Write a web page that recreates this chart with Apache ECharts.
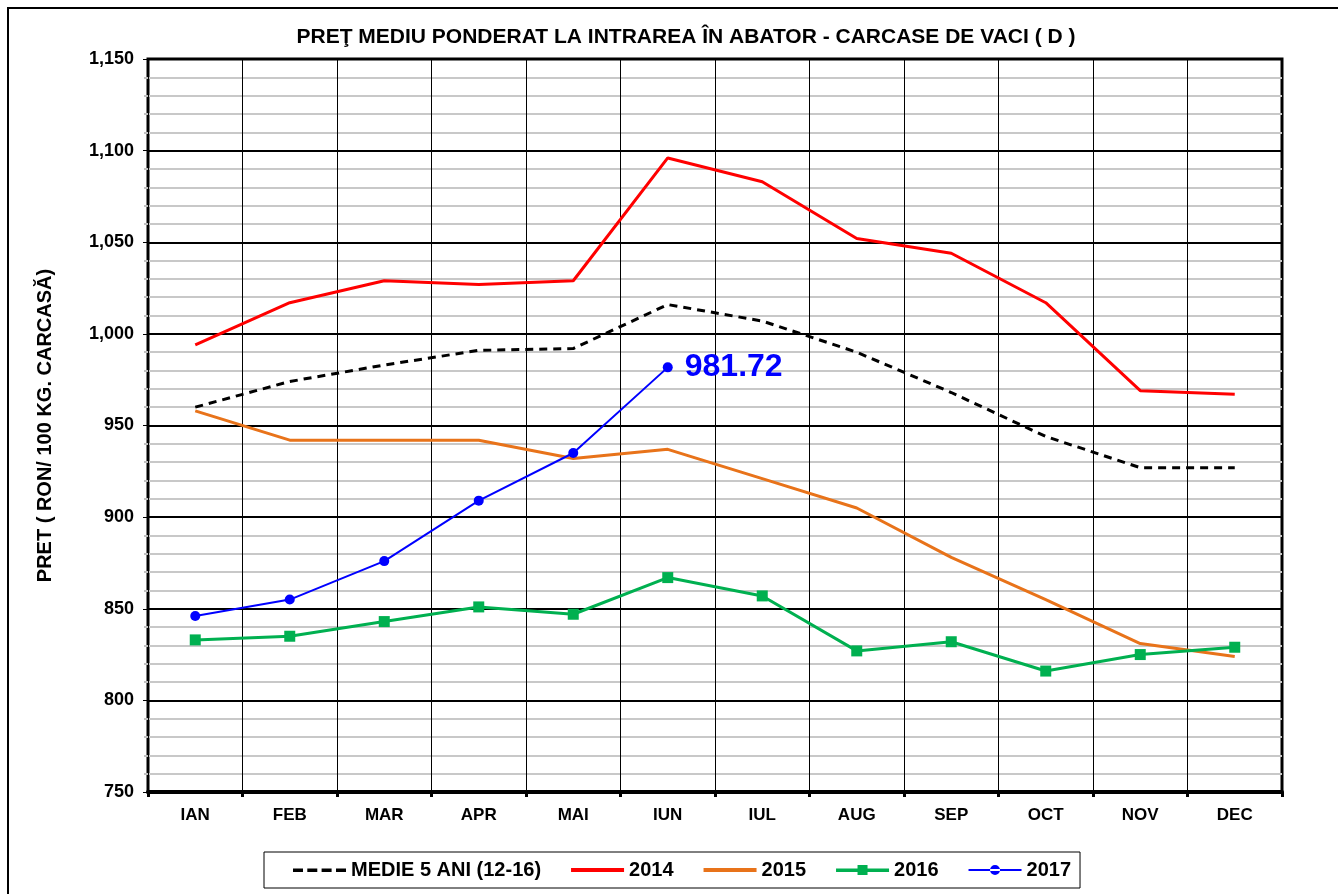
<!DOCTYPE html>
<html>
<head>
<meta charset="utf-8">
<script src="https://cdn.jsdelivr.net/npm/echarts@6/dist/echarts.min.js"></script>
<style>
  html, body { margin: 0; padding: 0; background: #fff; }
  #chart { width: 1338px; height: 894px; }
</style>
</head>
<body>
<div id="chart"></div>
<script>
var luni = ["IAN", "FEB", "MAR", "APR", "MAI", "IUN", "IUL", "AUG", "SEP", "OCT", "NOV", "DEC"];

var medie = [960, 974, 983, 991, 992, 1016, 1007, 990, 968, 944, 927, 927];
var an2014 = [994, 1017, 1029, 1027, 1029, 1096, 1083, 1052, 1044, 1017, 969, 967];
var an2015 = [958, 942, 942, 942, 932, 937, 921, 905, 878, 855, 831, 824];
var an2016 = [833, 835, 843, 851, 847, 867, 857, 827, 832, 816, 825, 829];
var an2017 = [846, 855, 876, 909, 935, 981.72];

var font = "'Liberation Sans', Arial, sans-serif";
var myChart = echarts.init(document.getElementById("chart"));

// colturi minuscule ca iconul sa pastreze cutia 53x14
var colturi = "M0,0h0.1v0.1h-0.1z M52.9,13.9h0.1v0.1h-0.1z ";
var iconLinie = "path://" + colturi + "M0,5h53v4h-53z";
var iconPunctat = "path://" + colturi + "M0,5.5h10v3.5h-10z M14.3,5.5h10v3.5h-10z M28.6,5.5h10v3.5h-10z M43,5.5h10v3.5h-10z";
var iconPatrat = "path://" + colturi + "M0,5.5h53v3.5h-53z M21.5,2h10v10h-10z";
var iconCerc = "path://" + colturi + "M0,6h53v2h-53z M21.5,7a5,5 0 1,0 10,0a5,5 0 1,0 -10,0z";

// ultimul punct din 2017 primeste eticheta
var date2017 = an2017.map(function (v, i) {
  if (i === an2017.length - 1) {
    return {
      value: v,
      label: {
        show: true,
        position: "right",
        distance: 12,
        formatter: function (p) { return p.value.toFixed(2); },
        color: "#0000ff",
        fontSize: 32,
        fontWeight: "bold",
        fontFamily: font
      }
    };
  }
  return v;
});

var option = {
  backgroundColor: "#fff",
  animation: false,
  title: {
    text: "PREŢ MEDIU PONDERAT LA INTRAREA ÎN ABATOR - CARCASE DE VACI ( D )",
    left: 681,
    top: 22,
    textAlign: "center",
    textStyle: { fontFamily: font, fontSize: 21, fontWeight: "bold", color: "#000" }
  },
  graphic: [
    {
      type: "rect",
      shape: { x: 8, y: 8, width: 1340, height: 900 },
      style: { fill: "none", stroke: "#000", lineWidth: 2 },
      silent: true
    }
  ],
  legend: {
    left: 264,
    top: 852,
    padding: [8, 9, 8, 29],
    itemGap: 30,
    itemWidth: 53,
    itemHeight: 14,
    borderColor: "#000",
    borderWidth: 1,
    itemStyle: { borderWidth: 0 },
    textStyle: { fontFamily: font, fontSize: 20, fontWeight: "bold", color: "#000" },
    data: [
      { name: "MEDIE 5 ANI (12-16)", icon: iconPunctat },
      { name: "2014", icon: iconLinie },
      { name: "2015", icon: iconLinie },
      { name: "2016", icon: iconPatrat },
      { name: "2017", icon: iconCerc }
    ]
  },
  grid: {
    left: 148,
    right: 56,
    top: 59,
    bottom: 102,
    show: true,
    borderColor: "#000",
    borderWidth: 3,
    containLabel: false
  },
  xAxis: {
    type: "category",
    data: luni,
    boundaryGap: true,
    axisLine: { lineStyle: { color: "#000", width: 4 } },
    axisTick: { show: true, length: 5, lineStyle: { color: "#000", width: 3 } },
    axisLabel: { fontFamily: font, fontSize: 17, fontWeight: "bold", color: "#000", margin: 15 },
    splitLine: { show: true, lineStyle: { color: "#000", width: 1 } }
  },
  yAxis: {
    type: "value",
    min: 750,
    max: 1150,
    interval: 50,
    name: "PRET ( RON/ 100 KG. CARCASĂ)",
    nameLocation: "middle",
    nameGap: 93,
    nameTextStyle: { fontFamily: font, fontSize: 20, fontWeight: "bold", color: "#000" },
    axisLine: { show: true, lineStyle: { color: "#000", width: 2 } },
    axisTick: { show: true, length: 5, lineStyle: { color: "#000", width: 1 } },
    axisLabel: {
      fontFamily: font, fontSize: 18, fontWeight: "bold", color: "#000", margin: 14,
      formatter: function (v) { return v.toLocaleString("en-US"); }
    },
    splitLine: { show: true, lineStyle: { color: "#000", width: 2 } },
    minorTick: { show: true, splitNumber: 5, length: 4, lineStyle: { color: "#c0c0c0", width: 2 } },
    minorSplitLine: { show: true, lineStyle: { color: "#c8c8c8", width: 2 } }
  },
  series: [
    {
      name: "MEDIE 5 ANI (12-16)",
      type: "line",
      data: medie,
      symbol: "none",
      lineStyle: { color: "#000", width: 3, type: [8, 6] },
      itemStyle: { color: "#000" },
      z: 3
    },
    {
      name: "2014",
      type: "line",
      data: an2014,
      symbol: "none",
      lineStyle: { color: "#ff0000", width: 3 },
      itemStyle: { color: "#ff0000" },
      z: 3
    },
    {
      name: "2015",
      type: "line",
      data: an2015,
      symbol: "none",
      lineStyle: { color: "#e8731a", width: 3 },
      itemStyle: { color: "#e8731a" },
      z: 3
    },
    {
      name: "2016",
      type: "line",
      data: an2016,
      symbol: "rect",
      symbolSize: 11,
      lineStyle: { color: "#00b050", width: 3 },
      itemStyle: { color: "#00b050" },
      z: 4
    },
    {
      name: "2017",
      type: "line",
      data: date2017,
      symbol: "circle",
      symbolSize: 10,
      lineStyle: { color: "#0000ff", width: 2 },
      itemStyle: { color: "#0000ff" },
      z: 5
    }
  ]
};

myChart.setOption(option);
</script>
</body>
</html>
